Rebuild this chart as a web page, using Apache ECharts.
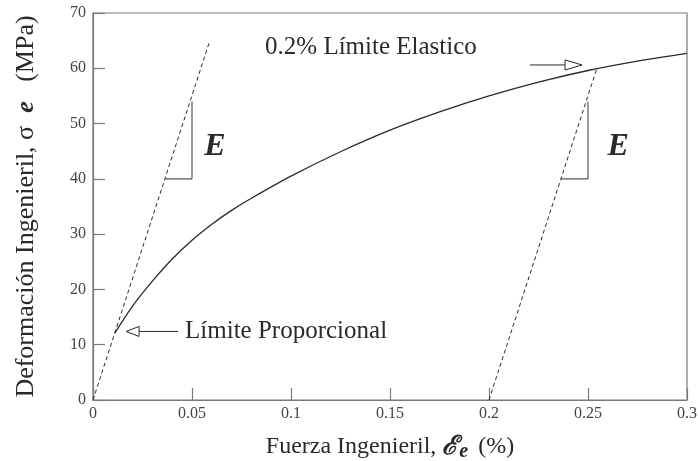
<!DOCTYPE html>
<html>
<head>
<meta charset="utf-8">
<script src="https://cdn.jsdelivr.net/npm/echarts@6/dist/echarts.min.js"></script>
<style>
  html, body { margin: 0; padding: 0; background: #fff; }
  #chart { width: 698px; height: 461px; }
</style>
</head>
<body>
<div id="chart"></div>
<script>
// Tick labels
const xTickLabels = ['0', '0.05', '0.1', '0.15', '0.2', '0.25', '0.3'];
const yTickLabels = ['0', '10', '20', '30', '40', '50', '60', '70'];

// Engineering stress-strain curve (from the proportional limit onward)
const strainX = [0.011, 0.02, 0.03, 0.04, 0.05, 0.06, 0.07, 0.08, 0.1, 0.125, 0.15, 0.175, 0.2, 0.225, 0.25, 0.275, 0.3];
const stressY = [12.1, 17.0, 21.5, 25.5, 28.9, 31.8, 34.3, 36.5, 40.5, 44.9, 48.8, 52.1, 55.0, 57.5, 59.6, 61.3, 62.7];

// Elastic line through the origin and the 0.2% offset line
const elasticX = [0, 0.059];
const elasticY = [0, 65];
const offsetX = [0.2, 0.2545];
const offsetY = [0, 60];

// Slope markers (E)
const slopeLeftX = [0.0364, 0.05, 0.05];
const slopeLeftY = [40, 40, 54];
const slopeRightX = [0.2364, 0.25, 0.25];
const slopeRightY = [40, 40, 54];

// Arrows: [tailX, tailY, tipX, tipY]
const arrowProportional = [0.0429, 12.4, 0.0167, 12.4];
const arrowYield = [0.2207, 60.6, 0.247, 60.6];

// Text notes
const noteX = [0.0465, 0.0869, 0.0616, 0.2652];
const noteY = [12.4, 63.7, 45.8, 45.8];
const noteText = ['Límite Proporcional', '0.2% Límite Elastico', 'E', 'E'];
const noteKind = ['plain', 'plain', 'modulus', 'modulus'];

const SERIF = '"Liberation Serif", "Times New Roman", serif';
const INK = '#2a2a2a';
const FRAME = '#7a7a7a';

const zip = (xs, ys) => xs.map((x, i) => [x, ys[i]]);

const chart = echarts.init(document.getElementById('chart'));

const arrowSeries = {
  type: 'custom',
  coordinateSystem: 'cartesian2d',
  clip: false,
  silent: true,
  z: 5,
  data: [arrowProportional, arrowYield],
  renderItem: function (params, api) {
    const tail = api.coord([api.value(0), api.value(1)]);
    const tip = api.coord([api.value(2), api.value(3)]);
    const dx = tip[0] - tail[0], dy = tip[1] - tail[1];
    const len = Math.sqrt(dx * dx + dy * dy);
    const ux = dx / len, uy = dy / len;
    const headLen = params.dataIndex === 0 ? 13 : 17;
    const half = 5;
    const bx = tip[0] - ux * headLen, by = tip[1] - uy * headLen;
    return {
      type: 'group',
      children: [
        {
          type: 'line',
          shape: { x1: tail[0], y1: tail[1], x2: bx, y2: by },
          style: { stroke: INK, lineWidth: 1 }
        },
        {
          type: 'polygon',
          shape: { points: [tip, [bx - uy * half, by + ux * half], [bx + uy * half, by - ux * half]] },
          style: { fill: '#fff', stroke: INK, lineWidth: 1 }
        }
      ]
    };
  }
};

const noteSeries = {
  type: 'custom',
  coordinateSystem: 'cartesian2d',
  clip: false,
  silent: true,
  z: 6,
  data: noteX.map((x, i) => [x, noteY[i], i]),
  renderItem: function (params, api) {
    const i = api.value(2);
    const p = api.coord([api.value(0), api.value(1)]);
    const modulus = noteKind[i] === 'modulus';
    return {
      type: 'text',
      x: p[0],
      y: p[1],
      style: {
        text: noteText[i],
        fill: INK,
        font: modulus
          ? 'italic bold 32px ' + SERIF
          : 'normal 25px ' + SERIF,
        align: modulus ? 'center' : 'left',
        verticalAlign: 'middle'
      }
    };
  }
};

const option = {
  backgroundColor: '#fff',
  animation: false,
  grid: {
    left: 93, right: 11, top: 13, bottom: 61,
    outerBoundsMode: 'none',
    containLabel: false,
    show: true, borderColor: FRAME, borderWidth: 1.2, backgroundColor: 'transparent'
  },
  xAxis: {
    type: 'value',
    min: 0, max: 0.3, interval: 0.05,
    name: 'Fuerza Ingenieril, {eps|ℰ}{sub|e} (%)',
    nameLocation: 'middle',
    nameGap: 32,
    nameTextStyle: {
      fontFamily: SERIF, fontSize: 24, color: INK,
      rich: {
        eps: { fontFamily: '"DejaVu Serif", serif', fontSize: 26, fontStyle: 'italic', fontWeight: 'bold', color: INK, lineHeight: 30, verticalAlign: 'middle' },
        sub: { fontFamily: SERIF, fontSize: 20, fontStyle: 'italic', fontWeight: 'bold', color: INK, lineHeight: 14, verticalAlign: 'bottom', padding: [0, 4, 0, 1] }
      }
    },
    axisLine: { show: true, lineStyle: { color: FRAME, width: 1.2 } },
    axisTick: { show: true, inside: true, length: 12, lineStyle: { color: FRAME, width: 1.2 } },
    axisLabel: {
      margin: 6, fontFamily: SERIF, fontSize: 16, color: '#444',
      formatter: (v) => xTickLabels[Math.round(v / 0.05)]
    },
    splitLine: { show: false }
  },
  yAxis: {
    type: 'value',
    min: 0, max: 70, interval: 10,
    name: 'Deformación Ingenieril, σ  {b|e}   (MPa)',
    nameLocation: 'middle',
    nameRotate: 90,
    nameGap: 54,
    nameTextStyle: {
      fontFamily: SERIF, fontSize: 26, color: INK,
      rich: {
        b: { fontFamily: SERIF, fontSize: 26, fontStyle: 'italic', fontWeight: 'bold', color: INK }
      }
    },
    axisLine: { show: true, lineStyle: { color: FRAME, width: 1.2 } },
    axisTick: { show: true, inside: true, length: 12, lineStyle: { color: FRAME, width: 1.2 } },
    axisLabel: {
      margin: 7, fontFamily: SERIF, fontSize: 16, color: '#444',
      formatter: (v) => yTickLabels[Math.round(v / 10)]
    },
    splitLine: { show: false }
  },
  series: [
    {
      name: 'curva',
      type: 'line',
      data: zip(strainX, stressY),
      smooth: 0.3,
      showSymbol: false,
      lineStyle: { color: INK, width: 1.3 },
      z: 3
    },
    {
      name: 'elastica',
      type: 'line',
      data: zip(elasticX, elasticY),
      showSymbol: false,
      lineStyle: { color: INK, width: 1, type: [4, 3] },
      z: 2
    },
    {
      name: 'desplazada',
      type: 'line',
      data: zip(offsetX, offsetY),
      showSymbol: false,
      lineStyle: { color: INK, width: 1, type: [4, 3] },
      z: 2
    },
    {
      name: 'pendiente1',
      type: 'line',
      data: zip(slopeLeftX, slopeLeftY),
      showSymbol: false,
      lineStyle: { color: '#555', width: 1.2 },
      z: 2
    },
    {
      name: 'pendiente2',
      type: 'line',
      data: zip(slopeRightX, slopeRightY),
      showSymbol: false,
      lineStyle: { color: '#555', width: 1.2 },
      z: 2
    },
    arrowSeries,
    noteSeries
  ]
};

chart.setOption(option);
</script>
</body>
</html>
